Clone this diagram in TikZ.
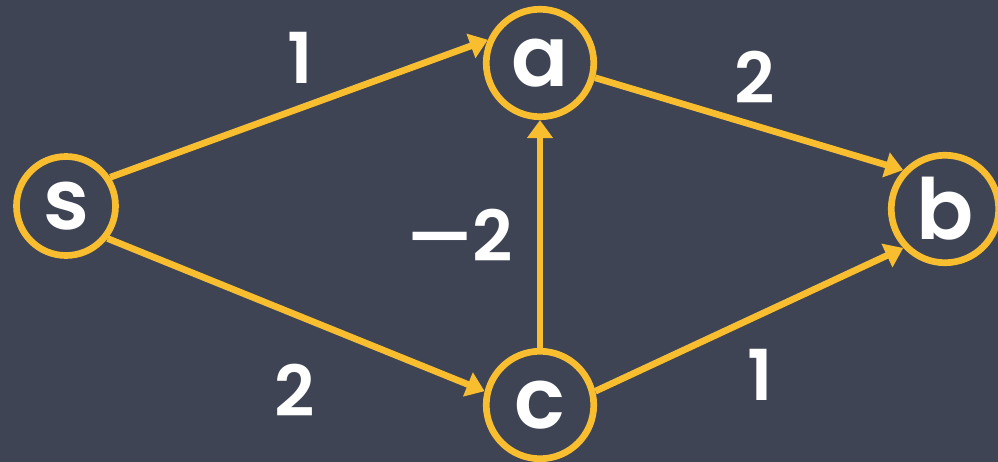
\documentclass[tikz,border=0pt]{standalone}
\usepackage{fontspec}
\setmainfont{Poppins}[BoldFont={Poppins SemiBold}]
\usetikzlibrary{arrows.meta,positioning}
\usepackage{xcolor}
\definecolor{SlateBg}{RGB}{62,68,84}
\definecolor{ChalkOrange}{RGB}{248,190,48}
\tikzset{
  vertex/.style={circle, draw=ChalkOrange, line width=3.8pt,
    minimum size=2.15cm, inner sep=0pt, text=white,
    font=\fontsize{48}{52}\selectfont\bfseries},
  weight/.style={text=white, font=\fontsize{40}{44}\selectfont\bfseries},
  arrow/.style={-{Triangle[length=0.36cm,width=0.5cm]}, line width=3.8pt,
    ChalkOrange}
}

\begin{document}
\begin{tikzpicture}
  \fill[SlateBg] (0,0) rectangle (19.96,-9.24);
  \useasboundingbox (0,0) rectangle (19.96,-9.24);
  % vertices
  \node[vertex,minimum size=1.98cm] (s) at (1.32,-4.12) {s};
  \node[vertex] (a) at (10.8,-1.26) {a};
  \node[vertex] (b) at (18.9,-4.18) {b};
  \node[vertex] (c) at (10.8,-8.1) {c};
  % edges
  \draw[arrow] (s.33) -- (a.156);
  \draw[arrow] (s.-38) -- (c.166);
  \draw[arrow] (a.-15) -- (b.137);
  \draw[arrow] (c.14) -- (b.223);
  \draw[arrow] (c.north) -- (a.south);
  % weights
  \node[weight] (w1) at (6.0,-1.15) {1};
  \node[weight] (w2) at (15.1,-1.55) {2};
  \node[weight] (w3) at (9.2,-4.7) {—2};
  \node[weight] (w4) at (5.9,-7.8) {2};
  \node[weight] (w5) at (15.2,-7.5) {1};
\end{tikzpicture}
\end{document}
